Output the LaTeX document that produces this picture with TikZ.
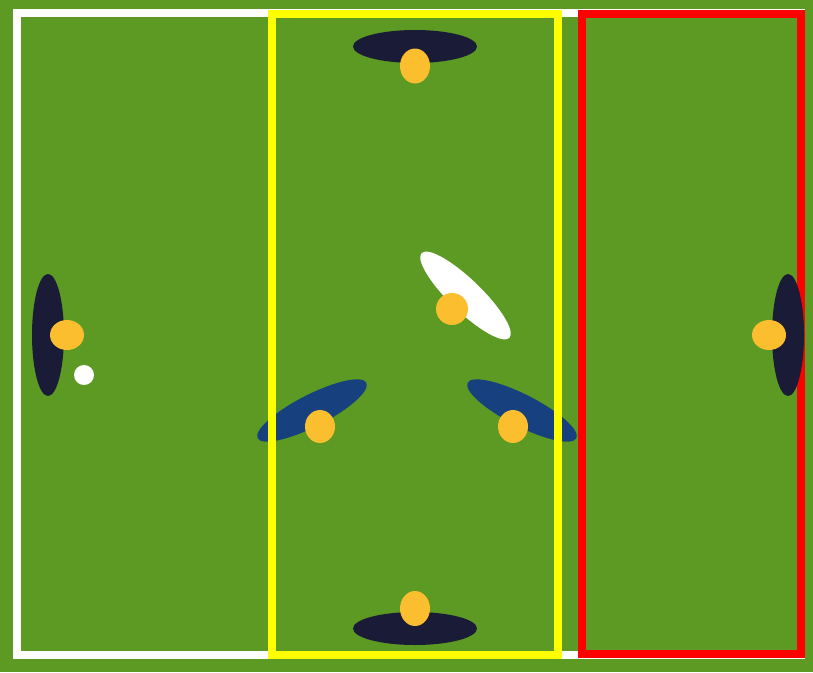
\documentclass[tikz,border=0pt]{standalone}
\definecolor{field}{HTML}{5C9A23}
\definecolor{navy}{HTML}{1A1B36}
\definecolor{teamblue}{HTML}{17407F}
\definecolor{skin}{HTML}{FBBE2E}
\definecolor{zoneyellow}{HTML}{FFFF00}
\definecolor{zonered}{HTML}{FF0000}
\tikzset{
  goalie/.style={fill=navy},
  bluebody/.style={fill=teamblue},
  whitebody/.style={fill=white},
  head/.style={fill=skin},
  boundary/.style={draw=white,line width=8pt},
  yellowzone/.style={draw=zoneyellow,line width=7.5pt},
  redzone/.style={draw=zonered,line width=8pt}
}
\begin{document}
\begin{tikzpicture}[x=1pt,y=-1pt]
\useasboundingbox (0,0) rectangle (813,672);
\fill[field] (0,0) rectangle (813,672);
% white boundary
\draw[boundary] (17,13) rectangle (801,655);
% blue players (under the yellow zone)
\fill[bluebody,rotate around={27:(312,410.5)}] (312,410.5) ellipse [x radius=61pt,y radius=16pt];
\fill[bluebody,rotate around={-27:(522,410.5)}] (522,410.5) ellipse [x radius=61pt,y radius=16pt];
% zones
\draw[yellowzone] (272,14) rectangle (558,655);
\draw[redzone] (582,14) rectangle (801,654);
% top and bottom players
\fill[goalie] (415,46.5) ellipse [x radius=62pt,y radius=16.5pt];
\fill[head] (415,66) ellipse [x radius=15pt,y radius=17.5pt];
\fill[goalie] (415,628.5) ellipse [x radius=62pt,y radius=16.5pt];
\fill[head] (415,608.5) ellipse [x radius=15pt,y radius=17.5pt];
% goalies
\fill[goalie] (48,335) ellipse [x radius=16pt,y radius=61pt];
\fill[head] (67,335) ellipse [x radius=17pt,y radius=15pt];
\fill[goalie] (788,335) ellipse [x radius=16pt,y radius=61pt];
\fill[head] (769,335) ellipse [x radius=17pt,y radius=15pt];
% ball
\fill[white] (84,375) circle [radius=10pt];
% white player
\fill[whitebody,rotate around={-44:(465.5,295.5)}] (465.5,295.5) ellipse [x radius=61pt,y radius=16pt];
\fill[head] (452,309) ellipse [x radius=16pt,y radius=16pt];
% blue players' heads
\fill[head] (320,426.5) ellipse [x radius=15pt,y radius=16.5pt];
\fill[head] (513,426.5) ellipse [x radius=15pt,y radius=16.5pt];
\end{tikzpicture}
\end{document}
